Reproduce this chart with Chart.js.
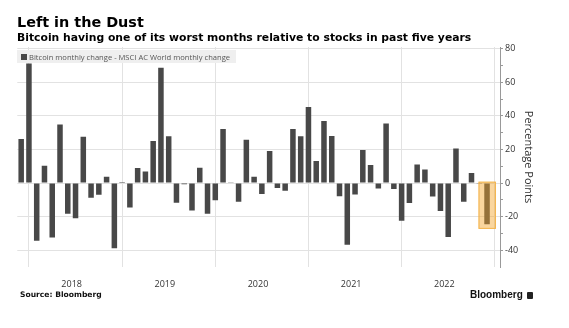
<!DOCTYPE html>
<html>
<head>
<meta charset="utf-8">
<script src="https://cdn.jsdelivr.net/npm/chart.js@4.4.0/dist/chart.umd.min.js"></script>
<style>
  html, body { margin: 0; padding: 0; background: #fff; }
  #wrap { position: relative; width: 569px; height: 328px; overflow: hidden; }
  #chart { position: absolute; left: 0; top: 0; }
  .title { position: absolute; left: 17px; top: 14px; font: bold 14.4px "DejaVu Sans"; color: #000; white-space: nowrap; }
  .subtitle { position: absolute; left: 17px; top: 31px; font: bold 10.8px "DejaVu Sans"; color: #000; white-space: nowrap; }
  .legend { position: absolute; left: 17px; top: 50px; width: 219px; height: 13px; background: #efefef;
            font: 7.6px "Open Sans"; color: #555; display: flex; align-items: center; white-space: nowrap; }
  .legend i { flex: 0 0 6px; width: 6px; height: 6px; background: #484848; margin: 0 2px 0 4px; }
  .source { position: absolute; left: 20px; top: 290px; font: bold 7.6px "DejaVu Sans"; color: #111; white-space: nowrap; }
  .logo { position: absolute; left: 470px; top: 289px; font: bold 10px "Liberation Sans"; color: #111; white-space: nowrap; }
  .logo b { display: inline-block; width: 6px; height: 7px; background: #222; border-radius: 1px; margin-left: 4px; vertical-align: -1px; }
</style>
</head>
<body>
<div id="wrap">
  <canvas id="chart" width="569" height="328"></canvas>
  <div class="title">Left in the Dust</div>
  <div class="subtitle">Bitcoin having one of its worst months relative to stocks in past five years</div>
  <div class="legend"><i></i>Bitcoin monthly change - MSCI AC World monthly change</div>
  <div class="source">Source: Bloomberg</div>
  <div class="logo">Bloomberg<b></b></div>
</div>
<script>
// month-end bars, Bitcoin minus MSCI ACWI (percentage points)
const months = [
    'Nov 17', 'Dec 17',
    'Jan 18', 'Feb 18', 'Mar 18', 'Apr 18', 'May 18', 'Jun 18', 'Jul 18', 'Aug 18', 'Sep 18', 'Oct 18', 'Nov 18', 'Dec 18',
    'Jan 19', 'Feb 19', 'Mar 19', 'Apr 19', 'May 19', 'Jun 19', 'Jul 19', 'Aug 19', 'Sep 19', 'Oct 19', 'Nov 19', 'Dec 19',
    'Jan 20', 'Feb 20', 'Mar 20', 'Apr 20', 'May 20', 'Jun 20', 'Jul 20', 'Aug 20', 'Sep 20', 'Oct 20', 'Nov 20', 'Dec 20',
    'Jan 21', 'Feb 21', 'Mar 21', 'Apr 21', 'May 21', 'Jun 21', 'Jul 21', 'Aug 21', 'Sep 21', 'Oct 21', 'Nov 21', 'Dec 21',
    'Jan 22', 'Feb 22', 'Mar 22', 'Apr 22', 'May 22', 'Jun 22', 'Jul 22', 'Aug 22', 'Sep 22', 'Oct 22', 'Nov 22'
];
const relChange = [
    26.2, 71.2,
    -34.4, 10.3, -32.4, 34.8, -18.3, -20.9, 27.6, -8.7, -7.0, 3.8, -38.8, 0.6,
    -14.5, 8.9, 6.8, 25.0, 68.6, 27.8, -11.8, -0.8, -16.3, 9.1, -18.3, -10.3,
    32.2, 0.4, -11.1, 25.8, 3.8, -6.6, 19.1, -3.0, -4.6, 32.2, 27.8, 45.3,
    13.1, 37.0, 28.0, -7.8, -36.8, -6.8, 19.7, 10.7, -3.2, 35.4, -3.6, -22.5,
    -11.9, 11.1, 8.0, -8.0, -16.7, -32.2, 20.5, -11.1, 6.0, -0.4, -24.5
];
const years = ['2018', '2019', '2020', '2021', '2022'];
const yTicks = [-40, -20, 0, 20, 40, 60, 80];
const highlightMonth = 'Nov 22';

const hiIdx = months.indexOf(highlightMonth);
const firstDec = months.findIndex(m => m.startsWith('Dec'));

// year boundary lines sit on each December, year labels half way between
function xTicks() {
    const t = [];
    for (let k = 0; k <= years.length; k++) {
        t.push({value: firstDec + 12 * k});
        if (k < years.length) t.push({value: firstDec + 12 * k + 5.5});
    }
    return t;
}

function yTicksWithMinor() {
    const t = [];
    yTicks.forEach((v, i) => {
        t.push({value: v});
        if (i < yTicks.length - 1) t.push({value: (v + yTicks[i + 1]) / 2});
    });
    return t;
}

const highlightBox = {
    id: 'highlightBox',
    afterDatasetsDraw(chart) {
        const {ctx, scales: {x, y}} = chart;
        const x0 = x.getPixelForValue(hiIdx - 1.1);
        const x1 = x.getPixelForValue(hiIdx + 1.15);
        const y0 = y.getPixelForValue(0.8);
        const y1 = y.getPixelForValue(relChange[hiIdx] - 2.8);
        ctx.save();
        ctx.fillStyle = 'rgba(245,165,40,0.45)';
        ctx.fillRect(x0, y0, x1 - x0, y1 - y0);
        ctx.strokeStyle = 'rgba(243,178,72,0.95)';
        ctx.lineWidth = 1;
        ctx.strokeRect(x0 + 0.5, y0 + 0.5, x1 - x0 - 1, y1 - y0 - 1);
        ctx.restore();
    }
};

const tickFont = {family: 'Open Sans', size: 9};

new Chart(document.getElementById('chart'), {
    type: 'bar',
    data: {
        datasets: [{
            label: 'Bitcoin monthly change - MSCI AC World monthly change',
            data: relChange.map((v, i) => ({x: i, y: v})),
            backgroundColor: '#484848',
            barPercentage: 1,
            categoryPercentage: 0.71,
            borderWidth: 0
        }]
    },
    options: {
        responsive: false,
        animation: false,
        layout: {padding: {left: 17.3, top: 47, right: 30, bottom: 25}},
        plugins: {
            legend: {display: false},
            tooltip: {enabled: false}
        },
        scales: {
            x: {
                type: 'linear',
                min: -0.5,
                max: months.length + 0.67,
                offset: false,
                afterBuildTicks: s => { s.ticks = xTicks(); },
                afterFit: s => { s.height = 36; },
                grid: {
                    offset: false,
                    drawTicks: false,
                    color: c => Number.isInteger(c.tick.value) ? '#e2e2e2' : 'rgba(0,0,0,0)'
                },
                border: {display: false},
                ticks: {
                    autoSkip: false,
                    maxRotation: 0,
                    padding: 12,
                    color: '#333',
                    font: tickFont,
                    callback: v => Number.isInteger(v) ? '' : years[Math.round((v - firstDec - 5.5) / 12)]
                }
            },
            y: {
                position: 'right',
                min: -50,
                max: 81,
                afterBuildTicks: s => { s.ticks = yTicksWithMinor(); },
                afterFit: s => { s.width = 39; },
                grid: {
                    color: c => c.tick.value % 20 === 0 ? '#e2e2e2' : 'rgba(0,0,0,0)',
                    tickColor: '#999',
                    tickLength: 3
                },
                border: {color: '#999'},
                ticks: {
                    padding: 2,
                    color: '#333',
                    font: tickFont,
                    callback: v => v % 20 === 0 ? v : ''
                },
                title: {
                    display: true,
                    text: 'Percentage Points',
                    color: '#333',
                    font: {family: 'Open Sans', size: 11},
                    padding: {top: 4, bottom: 0}
                }
            }
        }
    },
    plugins: [highlightBox]
});
</script>
</body>
</html>
